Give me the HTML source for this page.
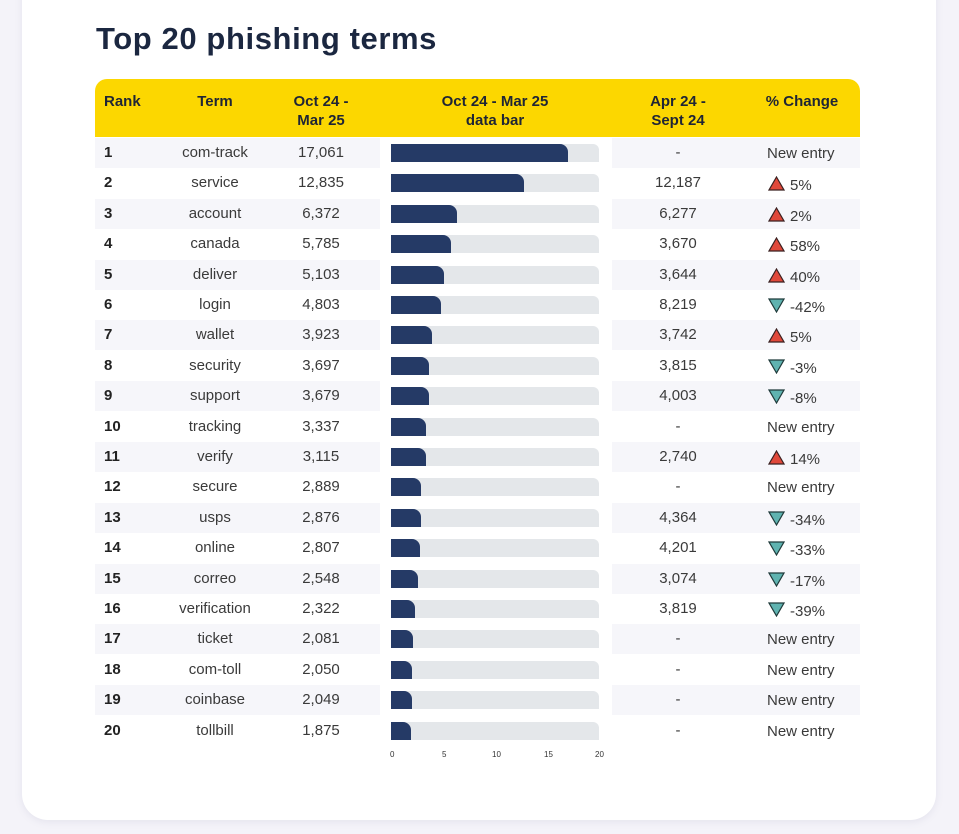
<!DOCTYPE html>
<html><head><meta charset="utf-8"><style>
*{margin:0;padding:0;box-sizing:border-box}
body{width:959px;height:834px;background:#f4f3f9;position:relative;overflow:hidden;font-family:"Liberation Sans",sans-serif;color:#3a3a3a}
.card{position:absolute;left:22px;top:-40px;width:914px;height:860px;background:#fff;border-radius:26px;box-shadow:0 2px 8px rgba(120,120,160,.12)}
h1{position:absolute;left:96px;top:21px;font-size:31px;font-weight:bold;color:#1b2740;letter-spacing:0.6px}
.hdr{position:absolute;left:95px;top:79px;width:765px;height:58px;background:#fcd700;border-radius:12px 12px 0 0}
.h{position:absolute;font-weight:bold;font-size:15px;color:#1f2535;text-align:center;line-height:19px}
.row{position:absolute;left:0;width:959px;height:30px}
.bgL{position:absolute;left:95px;width:285px;height:30px;background:#f6f6fa}
.bgR{position:absolute;left:612px;width:248px;height:30px;background:#f6f6fa}
.c{position:absolute;top:6px;font-size:15px;line-height:18px;white-space:nowrap}
.rk{left:104px;font-weight:bold;color:#222}
.tm{left:135px;width:160px;text-align:center}
.vl{left:271px;width:100px;text-align:center}
.ap{left:628px;width:100px;text-align:center}
.ne{left:767px;top:7px}
.pc{left:790px;top:9px}
.tr{position:absolute;left:391px;top:6px;width:208px;height:18px;background:#e4e7ea;border-radius:0 6px 0 0}
.fl{position:absolute;left:0;top:0;height:18px;background:#253a66;border-radius:0 8px 0 0}
.tri{position:absolute;left:768px;top:8px}
.tk{position:absolute;top:750px;font-size:8px;color:#333}
</style></head><body>
<div class="card"></div>
<h1>Top 20 phishing terms</h1>
<div class="hdr"></div>
<div class="h" style="left:104px;top:92px">Rank</div>
<div class="h" style="left:175px;top:92px;width:80px">Term</div>
<div class="h" style="left:271px;top:92px;width:100px">Oct 24 -<br>Mar 25</div>
<div class="h" style="left:420px;top:92px;width:150px">Oct 24 - Mar 25<br>data bar</div>
<div class="h" style="left:618px;top:92px;width:120px">Apr 24 -<br>Sept 24</div>
<div class="h" style="left:752px;top:92px;width:100px">% Change</div>

<div class="row" style="top:138px"><div class="bgL"></div><div class="bgR"></div><div class="c rk">1</div><div class="c tm">com-track</div><div class="c vl">17,061</div><div class="tr"><div class="fl" style="width:177px"></div></div><div class="c ap">-</div><div class="c ne">New entry</div></div>
<div class="row" style="top:168.4px"><div class="c rk">2</div><div class="c tm">service</div><div class="c vl">12,835</div><div class="tr"><div class="fl" style="width:133px"></div></div><div class="c ap">12,187</div><svg class="tri" width="17" height="15"><polygon points="8.5,1 16,14 1,14" fill="#e0483a" stroke="#3a2020" stroke-width="1.2"/></svg><div class="c pc">5%</div></div>
<div class="row" style="top:198.8px"><div class="bgL"></div><div class="bgR"></div><div class="c rk">3</div><div class="c tm">account</div><div class="c vl">6,372</div><div class="tr"><div class="fl" style="width:66px"></div></div><div class="c ap">6,277</div><svg class="tri" width="17" height="15"><polygon points="8.5,1 16,14 1,14" fill="#e0483a" stroke="#3a2020" stroke-width="1.2"/></svg><div class="c pc">2%</div></div>
<div class="row" style="top:229.2px"><div class="c rk">4</div><div class="c tm">canada</div><div class="c vl">5,785</div><div class="tr"><div class="fl" style="width:60px"></div></div><div class="c ap">3,670</div><svg class="tri" width="17" height="15"><polygon points="8.5,1 16,14 1,14" fill="#e0483a" stroke="#3a2020" stroke-width="1.2"/></svg><div class="c pc">58%</div></div>
<div class="row" style="top:259.6px"><div class="bgL"></div><div class="bgR"></div><div class="c rk">5</div><div class="c tm">deliver</div><div class="c vl">5,103</div><div class="tr"><div class="fl" style="width:53px"></div></div><div class="c ap">3,644</div><svg class="tri" width="17" height="15"><polygon points="8.5,1 16,14 1,14" fill="#e0483a" stroke="#3a2020" stroke-width="1.2"/></svg><div class="c pc">40%</div></div>
<div class="row" style="top:290px"><div class="c rk">6</div><div class="c tm">login</div><div class="c vl">4,803</div><div class="tr"><div class="fl" style="width:50px"></div></div><div class="c ap">8,219</div><svg class="tri" width="17" height="15"><polygon points="1,1 16,1 8.5,14" fill="#5fb3b0" stroke="#1f3a3a" stroke-width="1.2"/></svg><div class="c pc">-42%</div></div>
<div class="row" style="top:320.4px"><div class="bgL"></div><div class="bgR"></div><div class="c rk">7</div><div class="c tm">wallet</div><div class="c vl">3,923</div><div class="tr"><div class="fl" style="width:41px"></div></div><div class="c ap">3,742</div><svg class="tri" width="17" height="15"><polygon points="8.5,1 16,14 1,14" fill="#e0483a" stroke="#3a2020" stroke-width="1.2"/></svg><div class="c pc">5%</div></div>
<div class="row" style="top:350.8px"><div class="c rk">8</div><div class="c tm">security</div><div class="c vl">3,697</div><div class="tr"><div class="fl" style="width:38px"></div></div><div class="c ap">3,815</div><svg class="tri" width="17" height="15"><polygon points="1,1 16,1 8.5,14" fill="#5fb3b0" stroke="#1f3a3a" stroke-width="1.2"/></svg><div class="c pc">-3%</div></div>
<div class="row" style="top:381.2px"><div class="bgL"></div><div class="bgR"></div><div class="c rk">9</div><div class="c tm">support</div><div class="c vl">3,679</div><div class="tr"><div class="fl" style="width:38px"></div></div><div class="c ap">4,003</div><svg class="tri" width="17" height="15"><polygon points="1,1 16,1 8.5,14" fill="#5fb3b0" stroke="#1f3a3a" stroke-width="1.2"/></svg><div class="c pc">-8%</div></div>
<div class="row" style="top:411.6px"><div class="c rk">10</div><div class="c tm">tracking</div><div class="c vl">3,337</div><div class="tr"><div class="fl" style="width:35px"></div></div><div class="c ap">-</div><div class="c ne">New entry</div></div>
<div class="row" style="top:442px"><div class="bgL"></div><div class="bgR"></div><div class="c rk">11</div><div class="c tm">verify</div><div class="c vl">3,115</div><div class="tr"><div class="fl" style="width:35px"></div></div><div class="c ap">2,740</div><svg class="tri" width="17" height="15"><polygon points="8.5,1 16,14 1,14" fill="#e0483a" stroke="#3a2020" stroke-width="1.2"/></svg><div class="c pc">14%</div></div>
<div class="row" style="top:472.4px"><div class="c rk">12</div><div class="c tm">secure</div><div class="c vl">2,889</div><div class="tr"><div class="fl" style="width:30px"></div></div><div class="c ap">-</div><div class="c ne">New entry</div></div>
<div class="row" style="top:502.8px"><div class="bgL"></div><div class="bgR"></div><div class="c rk">13</div><div class="c tm">usps</div><div class="c vl">2,876</div><div class="tr"><div class="fl" style="width:30px"></div></div><div class="c ap">4,364</div><svg class="tri" width="17" height="15"><polygon points="1,1 16,1 8.5,14" fill="#5fb3b0" stroke="#1f3a3a" stroke-width="1.2"/></svg><div class="c pc">-34%</div></div>
<div class="row" style="top:533.2px"><div class="c rk">14</div><div class="c tm">online</div><div class="c vl">2,807</div><div class="tr"><div class="fl" style="width:29px"></div></div><div class="c ap">4,201</div><svg class="tri" width="17" height="15"><polygon points="1,1 16,1 8.5,14" fill="#5fb3b0" stroke="#1f3a3a" stroke-width="1.2"/></svg><div class="c pc">-33%</div></div>
<div class="row" style="top:563.6px"><div class="bgL"></div><div class="bgR"></div><div class="c rk">15</div><div class="c tm">correo</div><div class="c vl">2,548</div><div class="tr"><div class="fl" style="width:27px"></div></div><div class="c ap">3,074</div><svg class="tri" width="17" height="15"><polygon points="1,1 16,1 8.5,14" fill="#5fb3b0" stroke="#1f3a3a" stroke-width="1.2"/></svg><div class="c pc">-17%</div></div>
<div class="row" style="top:594px"><div class="c rk">16</div><div class="c tm">verification</div><div class="c vl">2,322</div><div class="tr"><div class="fl" style="width:24px"></div></div><div class="c ap">3,819</div><svg class="tri" width="17" height="15"><polygon points="1,1 16,1 8.5,14" fill="#5fb3b0" stroke="#1f3a3a" stroke-width="1.2"/></svg><div class="c pc">-39%</div></div>
<div class="row" style="top:624.4px"><div class="bgL"></div><div class="bgR"></div><div class="c rk">17</div><div class="c tm">ticket</div><div class="c vl">2,081</div><div class="tr"><div class="fl" style="width:22px"></div></div><div class="c ap">-</div><div class="c ne">New entry</div></div>
<div class="row" style="top:654.8px"><div class="c rk">18</div><div class="c tm">com-toll</div><div class="c vl">2,050</div><div class="tr"><div class="fl" style="width:21px"></div></div><div class="c ap">-</div><div class="c ne">New entry</div></div>
<div class="row" style="top:685.2px"><div class="bgL"></div><div class="bgR"></div><div class="c rk">19</div><div class="c tm">coinbase</div><div class="c vl">2,049</div><div class="tr"><div class="fl" style="width:21px"></div></div><div class="c ap">-</div><div class="c ne">New entry</div></div>
<div class="row" style="top:715.6px"><div class="c rk">20</div><div class="c tm">tollbill</div><div class="c vl">1,875</div><div class="tr"><div class="fl" style="width:20px"></div></div><div class="c ap">-</div><div class="c ne">New entry</div></div>

<div class="tk" style="left:390px">0</div>
<div class="tk" style="left:442px">5</div>
<div class="tk" style="left:492px">10</div>
<div class="tk" style="left:544px">15</div>
<div class="tk" style="left:595px">20</div>
</body></html>
